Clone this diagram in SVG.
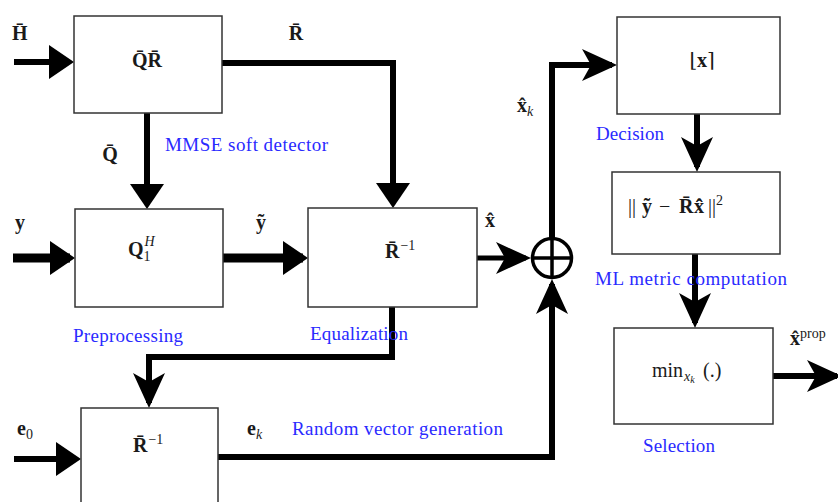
<svg xmlns="http://www.w3.org/2000/svg" width="838" height="502" viewBox="0 0 838 502">
<style>
.box{fill:#fff;stroke:#333;stroke-width:1.5}
.wire{fill:none;stroke:#000;stroke-width:6}
.m{font-family:"Liberation Serif","DejaVu Serif",serif;font-size:20px;fill:#1a1a1a}
.b{font-weight:bold}
.lbl{font-family:"Liberation Serif","Times New Roman",serif;font-size:19px;fill:#2a2aff}
</style>
<defs>
<marker id="tri" markerUnits="userSpaceOnUse" markerWidth="26" markerHeight="34" refX="20" refY="17" orient="auto" viewBox="0 0 26 34"><path d="M0,0 L25,17 L0,34 z" fill="#000"/></marker>
<marker id="st" markerUnits="userSpaceOnUse" markerWidth="36" markerHeight="32" refX="30" refY="16" orient="auto" viewBox="0 0 36 32"><path d="M0,0 L35,16 L0,32 L9,16 z" fill="#000"/></marker>
</defs>
<rect width="838" height="502" fill="#fff"/>

<g id="connectors">
<path class="wire" d="M14,62 H69" marker-end="url(#tri)"/>
<path class="wire" d="M222,63 H393 V203" marker-end="url(#tri)"/>
<path class="wire" d="M147,113 V204" marker-end="url(#tri)"/>
<path class="wire" style="stroke-width:9" d="M13,258 H70" marker-end="url(#tri)"/>
<path class="wire" style="stroke-width:9" d="M223,258 H303" marker-end="url(#tri)"/>
<path class="wire" style="stroke-width:5" d="M477,258 H526" marker-end="url(#st)"/>
<path class="wire" d="M552,238 V65 H612" marker-end="url(#st)"/>
<path class="wire" d="M218,457 H552 V284" marker-end="url(#st)"/>
<path class="wire" d="M392,307 V357 H149 V403" marker-end="url(#st)"/>
<path class="wire" d="M14,459 H76" marker-end="url(#tri)"/>
<path class="wire" d="M697,114 V167" marker-end="url(#st)"/>
<path class="wire" d="M695,254 V323" marker-end="url(#st)"/>
<path class="wire" d="M773,376 H837" marker-end="url(#st)"/>
<text class="m b" x="12" y="40">H&#x304;</text>
<text class="m b" x="296" y="40" text-anchor="middle">R&#x304;</text>
<text class="m b" x="110" y="161" text-anchor="middle">Q&#x304;</text>
<text class="m b" x="20" y="229" text-anchor="middle">y</text>
<text class="m b" x="261" y="229" text-anchor="middle">y&#x303;</text>
<text class="m b" x="490" y="227" text-anchor="middle">x&#x302;</text>
<text class="m" x="517" y="112"><tspan class="b">x&#x302;</tspan><tspan font-size="14" font-style="italic" dy="4">k</tspan></text>
<text class="m" x="17" y="435"><tspan class="b">e</tspan><tspan font-size="14" dy="4">0</tspan></text>
<text class="m" x="247" y="435"><tspan class="b">e</tspan><tspan font-size="14" font-style="italic" dy="4">k</tspan></text>
<text class="m" x="790" y="345"><tspan class="b">x&#x302;</tspan><tspan font-size="14" dy="-7">prop</tspan></text>
</g>

<g id="oplus">
<circle cx="552" cy="258" r="19.5" fill="#fff" stroke="#000" stroke-width="3.5"/>
<path d="M532,258 H572 M552,238 V278" stroke="#000" stroke-width="3.5"/>
</g>

<g id="qr">
<rect class="box" x="74" y="16" width="148" height="97"/>
<text class="m b" x="147" y="67" text-anchor="middle" font-size="22">Q&#x304;R&#x304;</text>
<text class="lbl" x="165" y="151" textLength="163" lengthAdjust="spacing">MMSE soft detector</text>
</g>

<g id="preprocessing">
<rect class="box" x="75" y="209" width="148" height="98"/>
<text class="m" x="128" y="256"><tspan class="b">Q</tspan><tspan font-size="14" dy="5">1</tspan><tspan font-size="14" font-style="italic" dx="-6" dy="-15">H</tspan></text>
<text class="lbl" x="73" y="342" textLength="110" lengthAdjust="spacing">Preprocessing</text>
</g>

<g id="equalization">
<rect class="box" x="308" y="208" width="169" height="99"/>
<text class="m" x="385" y="258"><tspan class="b">R&#x304;</tspan><tspan font-size="14" dy="-8" dx="1">−1</tspan></text>
<text class="lbl" x="310" y="340" textLength="98" lengthAdjust="spacing">Equalization</text>
</g>

<g id="random">
<rect class="box" x="81" y="408" width="137" height="100"/>
<text class="m" x="133" y="452"><tspan class="b">R&#x304;</tspan><tspan font-size="14" dy="-8" dx="1">−1</tspan></text>
<text class="lbl" x="292" y="435" textLength="211" lengthAdjust="spacing">Random vector generation</text>
</g>

<g id="decision">
<rect class="box" x="617" y="17" width="163" height="97"/>
<text class="m" x="702" y="67" text-anchor="middle">⌊<tspan class="b">x</tspan>⌉</text>
<text class="lbl" x="596" y="140" textLength="68" lengthAdjust="spacing">Decision</text>
</g>

<g id="ml">
<rect class="box" x="612" y="172" width="168" height="82"/>
<text class="m" y="213"><tspan x="628">||</tspan><tspan class="b" x="642">y&#x303;</tspan><tspan x="659">−</tspan><tspan class="b" x="679">R&#x304;</tspan><tspan class="b" x="694">x&#x302;&#x302;</tspan><tspan x="708">||</tspan><tspan font-size="14" dy="-8">2</tspan></text>
<text class="lbl" x="595" y="285" textLength="192" lengthAdjust="spacing">ML metric computation</text>
</g>

<g id="selection">
<rect class="box" x="614" y="328" width="159" height="96"/>
<text class="m" y="377" font-size="21"><tspan x="652">min</tspan><tspan x="684" font-size="14" font-style="italic" dy="4">x</tspan><tspan font-size="10" font-style="italic" dy="2">k</tspan><tspan x="703" dy="-6">(.)</tspan></text>
<text class="lbl" x="643" y="452" textLength="72" lengthAdjust="spacing">Selection</text>
</g>
</svg>
